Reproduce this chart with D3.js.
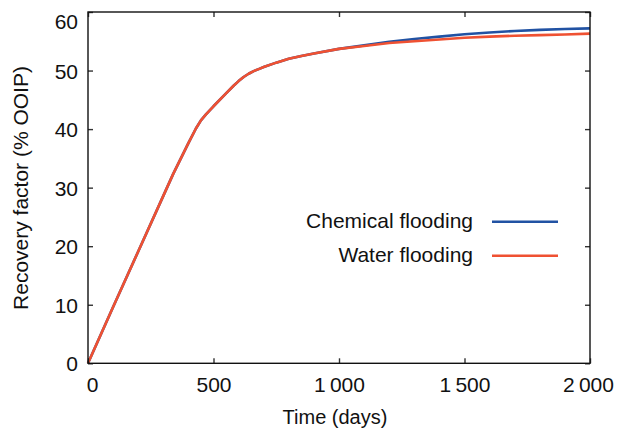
<!DOCTYPE html>
<html>
<head>
<meta charset="utf-8">
<script src="https://cdn.jsdelivr.net/npm/d3@7"></script>
<style>
	body {margin:0; background:#fff;}
	svg text {font-family:"Liberation Sans", Arial, Helvetica, sans-serif; fill:#111;}
</style>
</head>
<body>
<svg id="chart" width="623" height="430"></svg>
<script>
// time in days and recovery factor (% OOIP)
var days     = [0, 100, 200, 300, 340, 400, 430, 450, 470, 500, 550, 580, 600, 620, 640, 660, 680, 700, 750, 800, 850, 900, 1000, 1100, 1200, 1300, 1400, 1500, 1600, 1700, 1800, 1900, 2000];
var chemical = [0, 9.6, 19.1, 28.6, 32.4, 37.6, 40.1, 41.5, 42.5, 43.9, 46.1, 47.4, 48.2, 48.9, 49.45, 49.9, 50.25, 50.6, 51.35, 52.0, 52.5, 52.9, 53.7, 54.3, 54.9, 55.4, 55.8, 56.2, 56.5, 56.75, 56.95, 57.1, 57.2];
var water    = [0, 9.6, 19.1, 28.6, 32.4, 37.6, 40.1, 41.5, 42.5, 43.9, 46.1, 47.4, 48.2, 48.9, 49.45, 49.9, 50.25, 50.6, 51.35, 52.0, 52.5, 52.9, 53.7, 54.2, 54.7, 55.0, 55.3, 55.6, 55.8, 55.95, 56.05, 56.15, 56.3];
var seriesNames = ["Chemical flooding", "Water flooding"];
var xTicks = [0, 500, 1000, 1500, 2000];
var yTicks = [0, 10, 20, 30, 40, 50, 60];

var colors = ["#2152a3", "#ef5132"];
var plotLeft = 88, plotRight = 590, plotTop = 12, plotBottom = 363.3;

var svg = d3.select("#chart");

var x = d3.scaleLinear().domain([0, 2000]).range([plotLeft, plotRight]);
var y = d3.scaleLinear().domain([0, 60]).range([plotBottom, plotTop]);

function fmt(d) {
	return d3.format(",")(d).replace(",", "\u2009");
}

//Curves
var line = d3.line()
	.x(function(d) {return x(d[0]);})
	.y(function(d) {return y(d[1]);});

[chemical, water].forEach(function(values, k) {
	svg.append("path")
		.datum(days.map(function(t, i) {return [t, values[i]];}))
		.attr("d", line)
		.attr("fill", "none")
		.attr("stroke", colors[k])
		.attr("stroke-width", 2.6)
		.attr("stroke-linejoin", "round");
});

//Axes, ticks point inward on all sides
var xAxis = svg.append("g")
	.attr("transform", "translate(0," + plotBottom + ")")
	.call(d3.axisBottom(x).tickValues(xTicks).tickSize(-5).tickPadding(14).tickFormat(fmt));
var xTop = svg.append("g")
	.attr("transform", "translate(0," + plotTop + ")")
	.call(d3.axisTop(x).tickValues(xTicks).tickSize(-5).tickFormat(""));
var yAxis = svg.append("g")
	.attr("transform", "translate(" + plotLeft + ",0)")
	.call(d3.axisLeft(y).tickValues(yTicks).tickSize(-5).tickPadding(10));
var yRight = svg.append("g")
	.attr("transform", "translate(" + plotRight + ",0)")
	.call(d3.axisRight(y).tickValues(yTicks).tickSize(-5).tickFormat(""));

[xAxis, xTop, yAxis, yRight].forEach(function(g) {
	g.select(".domain").remove();
	g.selectAll(".tick line").attr("stroke", "#333").attr("stroke-width", 1.4);
	g.selectAll(".tick text").style("font-size", "21px").attr("fill", "#111");
});

xAxis.selectAll(".tick text").attr("dx", function(d) {
	return d == 0 ? 4 : (d == 2000 ? -2 : 0);
});
yAxis.selectAll(".tick text").attr("dy", function(d) {
	return d == 60 ? "0.77em" : "0.36em";
});

svg.append("rect")
	.attr("x", plotLeft)
	.attr("y", plotTop)
	.attr("width", plotRight - plotLeft)
	.attr("height", plotBottom - plotTop)
	.attr("fill", "none")
	.attr("stroke", "#111")
	.attr("stroke-width", 1.4);

//Axis titles
svg.append("text")
	.attr("x", (plotLeft + plotRight) / 2 - 4)
	.attr("y", 424)
	.style("text-anchor", "middle")
	.style("font-size", "20px")
	.text("Time (days)");

svg.append("text")
	.attr("transform", "translate(28,188) rotate(-90)")
	.style("text-anchor", "middle")
	.style("font-size", "21px")
	.text("Recovery factor (% OOIP)");

//Legend
var legendY = [221.7, 255.7];
seriesNames.forEach(function(name, k) {
	svg.append("text")
		.attr("x", 473)
		.attr("y", legendY[k] + 6)
		.style("text-anchor", "end")
		.style("font-size", "21px")
		.text(name);
	svg.append("line")
		.attr("x1", 492)
		.attr("x2", 558)
		.attr("y1", legendY[k])
		.attr("y2", legendY[k])
		.attr("stroke", colors[k])
		.attr("stroke-width", 2.6);
});
</script>
</body>
</html>
